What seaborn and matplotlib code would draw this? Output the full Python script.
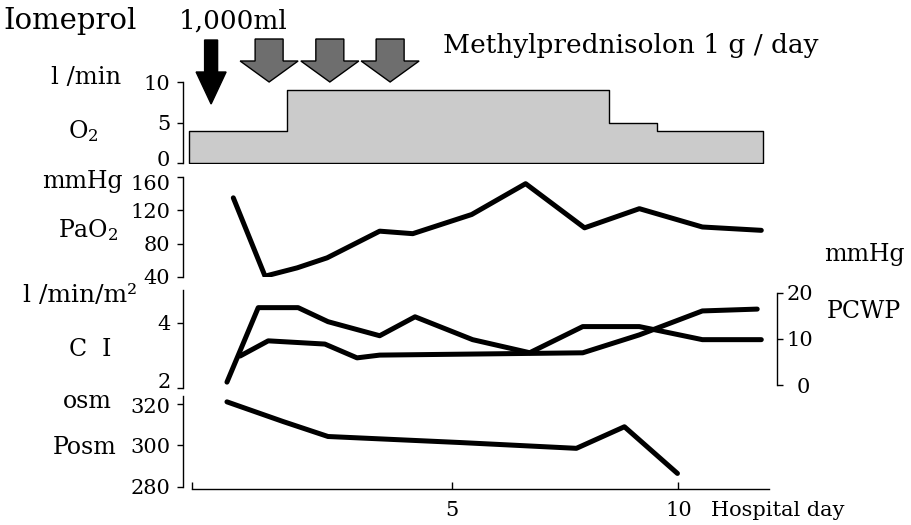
import matplotlib
matplotlib.use("Agg")
import matplotlib.pyplot as plt
import seaborn as sns
from matplotlib.patches import Polygon
from matplotlib.transforms import IdentityTransform, ScaledTranslation

# ---------------- data ----------------
o2_days = [-0.8, 1.37, 8.46, 9.52, 11.87]
o2_flow = [4, 9, 5, 4, 4]

pao2_days = [0.18, 0.88, 1.59, 2.25, 3.41, 4.14, 5.44, 6.63, 7.93, 9.14, 10.53, 11.83]
pao2 = [135, 41, 51, 63, 95, 92, 115, 152, 99, 122, 100, 96]

ci_days = [0.04, 0.73, 1.61, 2.27, 3.41, 4.19, 5.46, 6.72, 7.89, 9.14, 10.53, 11.83]
ci = [2.18, 4.46, 4.46, 4.03, 3.6, 4.18, 3.48, 3.08, 3.88, 3.88, 3.48, 3.48]

pcwp_days = [0.33, 0.95, 2.2, 2.91, 3.41, 7.89, 9.14, 10.53, 11.74]
pcwp = [6.3, 9.6, 8.9, 5.9, 6.5, 7.0, 10.9, 16.1, 16.5]

posm_days = [0.04, 1.28, 2.27, 5.18, 7.75, 8.81, 9.98]
posm = [321, 311.5, 304.3, 301.4, 298.6, 309, 286.5]

iomeprol_day = -0.31
mp_days = [0.97, 2.31, 3.64]
x_ticks = [5, 10]
x_ticklabels = ["5", "10"]

# ---------------- style ----------------
sns.set_theme(style="ticks")
plt.rcParams['font.family'] = ['DejaVu Serif', 'Liberation Serif']
plt.rcParams['mathtext.default'] = 'regular'

W, H = 911, 525
fig = plt.figure(figsize=(W / 100, H / 100), dpi=100)
fig.patch.set_facecolor('white')


def rect(top, bottom):
    return [183 / W, 1 - bottom / H, 586 / W, (bottom - top) / H]


def nudge(label, dx_px, dy_px):
    label.set_transform(label.get_transform() +
                        ScaledTranslation(dx_px / 100, dy_px / 100, fig.dpi_scale_trans))


XLIM = (-0.93, 12.0)
TS = 15  # tick label size
LW = 3.6

ax_o2 = fig.add_axes(rect(82, 163))
ax_pa = fig.add_axes(rect(177, 277))
ax_ci = fig.add_axes(rect(290, 388))
ax_os = fig.add_axes(rect(395, 489))

for ax in (ax_o2, ax_pa, ax_ci, ax_os):
    ax.set_facecolor('none')
    ax.set_xlim(*XLIM)
    for s in ('top', 'right', 'bottom'):
        ax.spines[s].set_visible(False)
    ax.spines['left'].set_color('black')
    ax.spines['left'].set_linewidth(1.0)
    ax.tick_params(axis='y', direction='out', length=4, width=1, color='black',
                   labelsize=TS, pad=5, labelcolor='black')
    ax.set_xticks([])
    ax.set_xlabel('')
    ax.set_ylabel('')

# O2 panel
ax_o2.fill_between(o2_days, o2_flow, step='post', facecolor='#cbcbcb',
                   edgecolor='black', linewidth=1.0)
ax_o2.set_ylim(0, 10)
ax_o2.set_yticks([0, 5, 10])
ax_o2.spines['left'].set_bounds(0, 10)

# PaO2 panel
sns.lineplot(x=pao2_days, y=pao2, ax=ax_pa, color='black', linewidth=LW)
ax_pa.set_ylim(40, 160)
ax_pa.set_yticks([40, 80, 120, 160])
ax_pa.set_xlim(*XLIM)
ax_pa.set_xticks([])

# CI / PCWP panel
sns.lineplot(x=ci_days, y=ci, ax=ax_ci, color='black', linewidth=LW)
ax_ci.set_ylim(2, 5)
ax_ci.set_yticks([2, 4])
ax_ci.spines['left'].set_bounds(2, 5)
ax_ci.set_xlim(*XLIM)
ax_ci.set_xticks([])

ax_pc = ax_ci.twinx()
sns.lineplot(x=pcwp_days, y=pcwp, ax=ax_pc, color='black', linewidth=LW)
ax_pc.set_ylim(-0.65, 20.65)
ax_pc.set_xlim(*XLIM)
for s in ('top', 'left', 'bottom'):
    ax_pc.spines[s].set_visible(False)
ax_pc.spines['right'].set_position(('axes', 1 + 8 / 586))
ax_pc.spines['right'].set_bounds(0, 20)
ax_pc.spines['right'].set_color('black')
ax_pc.spines['right'].set_linewidth(1.0)
ax_pc.set_yticks([0, 10, 20])
ax_pc.tick_params(axis='y', direction='out', length=4, width=1, color='black',
                  labelsize=TS, pad=3, labelcolor='black')
ax_pc.set_ylabel('')
ax_pc.set_xticks([])

# Posm panel
sns.lineplot(x=posm_days, y=posm, ax=ax_os, color='black', linewidth=LW)
ax_os.set_ylim(279.0, 324.3)
ax_os.set_yticks([280, 300, 320])
ax_os.spines['left'].set_bounds(280, 324)
ax_os.set_xlim(*XLIM)
ax_os.spines['bottom'].set_visible(True)
ax_os.spines['bottom'].set_color('black')
ax_os.spines['bottom'].set_linewidth(1.0)
ax_os.spines['bottom'].set_bounds(-0.73, XLIM[1])
ax_os.set_xticks([-0.73] + x_ticks)
ax_os.set_xticklabels([''] + x_ticklabels)
ax_os.tick_params(axis='x', direction='in', length=5, width=1, color='black',
                  labelsize=TS, pad=9, labelcolor='black')
ax_os.set_xlabel('')
ax_os.set_ylabel('')

# small label nudges as in the reference (labels sit tight between panels)
nudge(ax_o2.get_yticklabels()[0], 0, 4)      # "0" of O2 slightly up
nudge(ax_pa.get_yticklabels()[-1], 0, -5)    # "160" slightly down
nudge(ax_ci.get_yticklabels()[0], 0, 7)      # "2" of CI up
nudge(ax_os.get_yticklabels()[-1], 0, -2)    # "320" slightly down
nudge(ax_pc.get_yticklabels()[0], 10, 0)     # "0" of PCWP shifted right


# ---------------- text ----------------
def T(x, y, s, ha='left', size=16):
    fig.text(x / W, 1 - y / H, s, ha=ha, va='center', fontsize=size, color='black')


T(3, 21, 'Iomeprol', size=21)
T(179, 21, '1,000ml', size=19)
T(443, 46, 'Methylprednisolon 1 g / day', size=19)
T(121, 78, 'l /min', ha='right', size=17.5)
T(98, 131, 'O$_2$', ha='right', size=17)
T(123, 181, 'mmHg', ha='right', size=17)
T(118, 230, 'PaO$_2$', ha='right', size=17)
T(137, 295, 'l /min/m²', ha='right', size=18)
T(111, 350, 'C  I', ha='right', size=17)
T(112, 401, 'osm', ha='right', size=17)
T(116, 447, 'Posm', ha='right', size=17)
T(824, 255, 'mmHg', size=17)
T(827, 312, 'PCWP', size=17)
T(711, 510, 'Hospital day', size=15)


# ---------------- arrows ----------------
def arrow(day, half_shaft, half_head, top, head_top, tip, face):
    xc = ax_o2.transData.transform((day, 0))[0]
    pts = [(xc - half_shaft, top), (xc + half_shaft, top), (xc + half_shaft, head_top),
           (xc + half_head, head_top), (xc, tip), (xc - half_head, head_top),
           (xc - half_shaft, head_top)]
    pts = [(px, H - py) for px, py in pts]
    fig.add_artist(Polygon(pts, closed=True, facecolor=face, edgecolor='black',
                           linewidth=1.0, transform=IdentityTransform()))


arrow(iomeprol_day, 6.5, 15, 40, 72, 104, 'black')
for d in mp_days:
    arrow(d, 14, 29, 39, 61, 82, '#6e6e6e')

fig.savefig('out.png', dpi=100)
